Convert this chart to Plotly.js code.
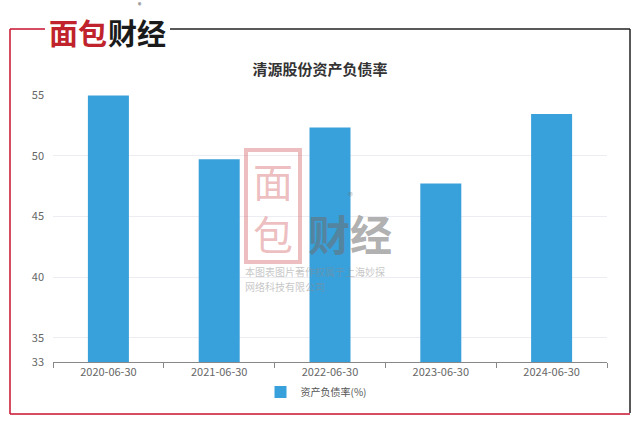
<!DOCTYPE html>
<html><head><meta charset="utf-8">
<script src="https://cdn.plot.ly/plotly-3.0.1.min.js"></script>
<style>html,body{margin:0;padding:0;background:#fff;}#chart{width:640px;height:424px;}</style>
</head><body><div id="chart"></div>
<script>
const categories = ['2020-06-30','2021-06-30','2022-06-30','2023-06-30','2024-06-30'];
const debtRatio = [54.95, 49.70, 52.32, 47.70, 53.44];
const yTicks = [33, 35, 40, 45, 50, 55];
const seriesName = '资产负债率(%)';
const chartTitle = '清源股份资产负债率';

const L = 53, R = 607, T = 95, B = 362, W = 640, H = 424;
const px = x => (x - L) / (R - L);
const py = y => (B - y) / (B - T);
const font = '"Noto Sans CJK SC", "Noto Sans", sans-serif';

const shapes = [
  {type:'line', xref:'paper', yref:'paper', x0:px(10), x1:px(10), y0:py(29), y1:py(414), line:{color:'#c8102e', width:1.5}},
  {type:'line', xref:'paper', yref:'paper', x0:px(10), x1:px(630), y0:py(414), y1:py(414), line:{color:'#c8102e', width:1.5}},
  {type:'line', xref:'paper', yref:'paper', x0:px(10), x1:px(45), y0:py(29), y1:py(29), line:{color:'#c8102e', width:1.5}},
  {type:'line', xref:'paper', yref:'paper', x0:px(170), x1:px(630), y0:py(29), y1:py(29), line:{color:'#222', width:1.5}},
  {type:'line', xref:'paper', yref:'paper', x0:px(630), x1:px(630), y0:py(29), y1:py(413), line:{color:'#222', width:1.5}},
  // watermark rounded frame
  {type:'rect', xref:'paper', yref:'paper', x0:px(246), x1:px(300), y0:py(262), y1:py(150), line:{color:'rgba(215,110,115,0.45)', width:4}, fillcolor:'rgba(0,0,0,0)', layer:'above'}
];

const annotations = [
  {text:'<b>面包</b>', xref:'paper', yref:'paper', x:px(48), y:py(32), xanchor:'left', yanchor:'middle', borderpad:0, showarrow:false, font:{family:font, size:29, color:'#c0232b'}},
  {text:'<b>财经</b>', xref:'paper', yref:'paper', x:px(107), y:py(32), xanchor:'left', yanchor:'middle', borderpad:0, showarrow:false, font:{family:font, size:29, color:'#1a1a1a'}},
  {text:'®', xref:'paper', yref:'paper', x:px(140), y:py(5.5), xanchor:'center', yanchor:'middle', borderpad:0, showarrow:false, font:{family:font, size:7, color:'#333'}},
  // watermark
  {text:'面', xref:'paper', yref:'paper', x:px(273), y:py(180), xanchor:'center', yanchor:'middle', showarrow:false, font:{family:font, size:40, color:'rgba(215,110,115,0.45)'}},
  {text:'包', xref:'paper', yref:'paper', x:px(273), y:py(233), xanchor:'center', yanchor:'middle', showarrow:false, font:{family:font, size:40, color:'rgba(215,110,115,0.45)'}},
  {text:'<b>财经</b>', xref:'paper', yref:'paper', x:px(350), y:py(233), xanchor:'center', yanchor:'middle', borderpad:0, showarrow:false, font:{family:font, size:42, color:'rgba(110,110,110,0.55)'}},
  {text:'®', xref:'paper', yref:'paper', x:px(350), y:py(195), xanchor:'center', yanchor:'middle', borderpad:0, showarrow:false, font:{family:font, size:10, color:'rgba(110,110,110,0.55)'}},
  {text:'本图表图片著作权属于上海妙探', xref:'paper', yref:'paper', x:px(244), y:py(271), xanchor:'left', yanchor:'middle', borderpad:0, showarrow:false, font:{family:font, size:10, color:'rgba(140,140,140,0.5)'}},
  {text:'网络科技有限公司', xref:'paper', yref:'paper', x:px(244), y:py(286), xanchor:'left', yanchor:'middle', borderpad:0, showarrow:false, font:{family:font, size:10, color:'rgba(140,140,140,0.5)'}}
];

const trace = {
  type:'bar', x:categories, y:debtRatio, name:seriesName,
  marker:{color:'#38a0da'}, hoverinfo:'none'
};

const layout = {
  width:W, height:H,
  margin:{l:L, r:W-R, t:T, b:H-B, pad:0},
  paper_bgcolor:'#fff', plot_bgcolor:'#fff',
  bargap:0.63,
  title:{text:'<b>'+chartTitle+'</b>', x:px(320), xref:'paper', xanchor:'center', y:1-70/H, yanchor:'middle', font:{family:font, size:15, color:'#333'}},
  xaxis:{type:'category', showline:true, linecolor:'#888', linewidth:1, ticks:'outside', tickson:'boundaries', ticklen:5, tickcolor:'#888', showgrid:false, tickfont:{family:font, size:11, color:'#666'}, fixedrange:true},
  yaxis:{range:[33,55], tickvals:yTicks, showline:false, zeroline:false, showgrid:true, gridcolor:'#ececf2', gridwidth:1, ticks:'', ticklabelstandoff:8, tickfont:{family:font, size:11, color:'#666'}, fixedrange:true},
  showlegend:true,
  legend:{orientation:'h', x:px(316), xanchor:'center', y:py(392), yanchor:'middle', font:{family:font, size:10, color:'#555'}, itemwidth:30},
  shapes:shapes, annotations:annotations
};

Plotly.newPlot('chart', [trace], layout, {staticPlot:true, displayModeBar:false});
</script></body></html>
